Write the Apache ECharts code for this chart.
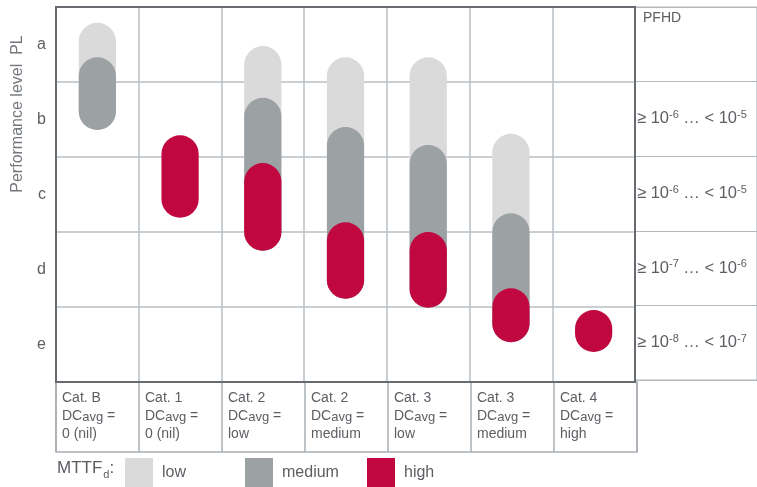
<!DOCTYPE html>
<html>
<head>
<meta charset="utf-8">
<script src="https://cdn.jsdelivr.net/npm/echarts@6/dist/echarts.min.js"></script>
<style>html,body{margin:0;padding:0;background:#fff;}#c{width:757px;height:487px;}</style>
</head>
<body>
<div id="c"></div>
<script>
// ---- data ----
const categories = [
  ['Cat. B', '0 (nil)'],
  ['Cat. 1', '0 (nil)'],
  ['Cat. 2', 'low'],
  ['Cat. 2', 'medium'],
  ['Cat. 3', 'low'],
  ['Cat. 3', 'medium'],
  ['Cat. 4', 'high']
];
const plLevels = ['a', 'b', 'c', 'd', 'e'];
const pfhdLabels = [
  null,
  ['-6', '-5'],
  ['-6', '-5'],
  ['-7', '-6'],
  ['-8', '-7']
];
// PL scale: 0 = top of "a", 5 = bottom of "e"
const lowStart    = [0.21, null, 0.52, 0.67, 0.67, 1.69, null];
const mediumStart = [0.67, null, 1.21, 1.60, 1.84, 2.75, null];
const highStart   = [null, 1.71, 2.08, 2.87, 3.00, 3.75, 4.04];
const barEnd      = [1.64, 2.81, 3.25, 3.89, 4.01, 4.47, 4.60];
const mttfNames = ['low', 'medium', 'high'];
const mttfColors = ['#dadada', '#9ca1a4', '#c1073f'];
const legendLefts = [125, 245, 367];

function build(starts) {
  const out = [];
  starts.forEach((s, i) => { if (s != null) out.push([i, s, barEnd[i]]); });
  return out;
}
const seriesData = [build(lowStart), build(mediumStart), build(highStart)];

const txt = '#5b5e62';
const gridLine = '#b9bfc5';
const dark = '#676b6f';
const FONT = 'Liberation Sans, Arial, sans-serif';

function renderItem(params, api) {
  const x = api.value(0);
  const p1 = api.coord([x, api.value(1)]);
  const p2 = api.coord([x, api.value(2)]);
  const w = api.size([1, 0])[0] * 0.45;
  return {
    type: 'rect',
    shape: { x: p1[0] - w / 2, y: p1[1], width: w, height: p2[1] - p1[1], r: w / 2 },
    style: { fill: api.visual('color') }
  };
}

const chart = echarts.init(document.getElementById('c'));
chart.setOption({
  animation: false,
  color: mttfColors,
  textStyle: { fontFamily: FONT },
  grid: [
    { left: 56, right: 122, top: 7, bottom: 105, show: true, borderColor: dark, borderWidth: 2, z: 3 },
    { left: 56, right: 120, top: 382, height: 70, show: true, borderColor: '#a9afb5', borderWidth: 1.5, z: 1 },
    { left: 635, right: -3, top: 7, bottom: 107, show: true, borderColor: '#b3b8bd', borderWidth: 1.2, z: 1 }
  ],
  xAxis: [
    { type: 'category', gridIndex: 0, data: categories.map(c => c[0] + ' ' + c[1]),
      axisLabel: { show: false, interval: 0 }, axisTick: { show: false }, axisLine: { show: false },
      splitLine: { show: true, interval: 0, lineStyle: { color: gridLine, width: 1.5 } } },
    { type: 'category', gridIndex: 1, position: 'top', boundaryGap: false,
      data: categories.map(c => c[0] + '|' + c[1]).concat(['']),
      axisTick: { show: false }, axisLine: { show: false },
      splitLine: { show: true, interval: 0, lineStyle: { color: '#a9afb5', width: 1.5 } },
      axisLabel: {
        inside: true, interval: 0, align: 'left', verticalAlign: 'top', margin: 7,
        padding: [0, 0, 0, 6],
        formatter: function (v) {
          if (!v) return '';
          const p = v.split('|');
          return '{a|' + p[0] + '}\n{a|DC}{s|avg}{a| =}\n{a|' + p[1] + '}';
        },
        rich: {
          a: { fontSize: 14, color: txt, lineHeight: 18, fontFamily: FONT },
          s: { fontSize: 13, color: txt, lineHeight: 18, fontFamily: FONT, padding: [3, 0, 0, 0] }
        }
      } },
    { type: 'value', gridIndex: 2, show: false }
  ],
  yAxis: [
    { type: 'category', gridIndex: 0, data: plLevels, inverse: true,
      axisTick: { show: false }, axisLine: { show: false },
      axisLabel: { color: txt, fontSize: 16, margin: 10 },
      splitLine: { show: true, interval: 0, lineStyle: { color: gridLine, width: 1.5 } } },
    { type: 'value', gridIndex: 0, min: 0, max: 5, interval: 1, inverse: true, show: false },
    { type: 'category', gridIndex: 2, inverse: true, data: pfhdLabels.map((p, i) => i),
      axisTick: { show: false }, axisLine: { show: false },
      splitLine: { show: true, interval: 0, lineStyle: { color: '#b3b8bd', width: 1.2 } },
      axisLabel: {
        inside: true, interval: 0, align: 'left', margin: 2,
        formatter: function (v) {
          const p = pfhdLabels[+v];
          if (!p) return '{h|PFHD}';
          return '{t|≥ 10}{s|' + p[0] + '}{t| … < 10}{s|' + p[1] + '}';
        },
        rich: {
          h: { fontSize: 14, color: txt, padding: [0, 0, 52, 6], fontFamily: FONT },
          t: { fontSize: 16.5, color: txt, lineHeight: 19, fontFamily: FONT },
          s: { fontSize: 11, color: txt, verticalAlign: 'top', lineHeight: 12, fontFamily: FONT }
        }
      } },
    { type: 'value', gridIndex: 1, show: false }
  ],
  legend: mttfNames.map((n, k) => ({
    left: legendLefts[k], top: 458, padding: 0, itemWidth: 28, itemHeight: 29, itemGap: 9, icon: 'rect',
    data: [n],
    textStyle: { fontSize: 16, color: txt, fontFamily: FONT, padding: [0, 0, 0, 4] }
  })),
  graphic: [
    { type: 'text', x: 18, y: 114, rotation: Math.PI / 2,
      style: { text: 'Performance level  PL', fill: '#74787c', fontSize: 16, fontFamily: FONT,
               align: 'center', verticalAlign: 'middle' } },
    { type: 'text', left: 57, top: 460,
      style: { text: '{m|MTTF}{d|d}{m|:}', rich: {
        m: { fontSize: 17, fill: txt, fontFamily: FONT },
        d: { fontSize: 11, fill: txt, fontFamily: FONT, padding: [12, 0, 0, 1] } } } }
  ],
  series: mttfNames.map((n, k) => ({
    name: n, type: 'custom', xAxisIndex: 0, yAxisIndex: 1,
    renderItem: renderItem, data: seriesData[k], z: 5 + k,
    encode: { x: 0, y: [1, 2] }
  }))
});
</script>
</body>
</html>
